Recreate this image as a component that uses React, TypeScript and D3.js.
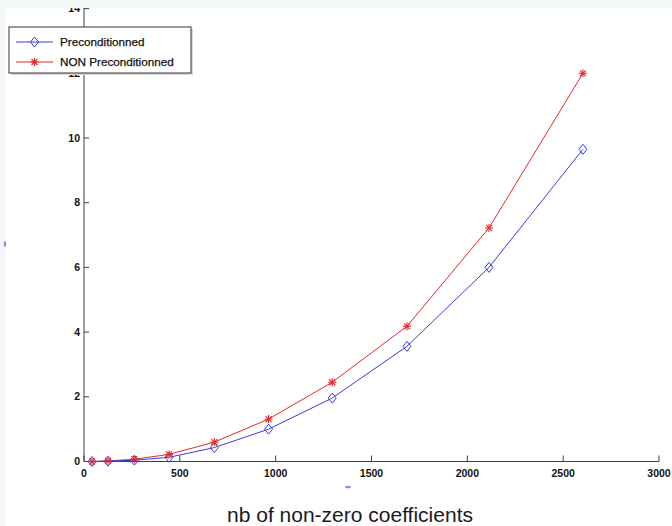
import React from "react";
import * as d3 from "d3";

const xValues = [42, 125, 263, 444, 680, 963, 1295, 1685, 2113, 2603];
const preconditioned = [0.0, 0.01, 0.04, 0.13, 0.43, 1.0, 1.96, 3.56, 6.0, 9.65];
const nonPreconditioned = [0.0, 0.02, 0.07, 0.22, 0.6, 1.31, 2.45, 4.18, 7.22, 12.0];
const xTicks = [0, 500, 1000, 1500, 2000, 2500, 3000];
const yTicks = [0, 2, 4, 6, 8, 10, 12, 14];
const seriesNames = ["Preconditionned", "NON Preconditionned"];
const xLabel = "nb of non-zero coefficients";

const W = 672;
const H = 526;
const BLUE = "#3a3ae0";
const RED = "#e8262a";

export default function App() {
  const x = d3.scaleLinear().domain([0, 3000]).range([84, 659]);
  const y = d3.scaleLinear().domain([0, 14]).range([461.5, 8.6]);
  const line = d3
    .line<[number, number]>()
    .x((d) => x(d[0]))
    .y((d) => y(d[1]));
  const bluePts: [number, number][] = xValues.map((v, i) => [v, preconditioned[i]]);
  const redPts: [number, number][] = xValues.map((v, i) => [v, nonPreconditioned[i]]);

  const diamond = (cx: number, cy: number, key: string | number) => (
    <path
      key={key}
      d={`M${cx},${cy - 5}L${cx + 4},${cy}L${cx},${cy + 5}L${cx - 4},${cy}Z`}
      fill="none"
      stroke={BLUE}
      strokeWidth={1}
    />
  );
  const star = (cx: number, cy: number, key: string | number) => (
    <g key={key} stroke={RED} strokeWidth={1.1}>
      <line x1={cx - 4} y1={cy} x2={cx + 4} y2={cy} />
      <line x1={cx} y1={cy - 4} x2={cx} y2={cy + 4} />
      <line x1={cx - 3} y1={cy - 3} x2={cx + 3} y2={cy + 3} />
      <line x1={cx - 3} y1={cy + 3} x2={cx + 3} y2={cy - 3} />
    </g>
  );

  const tickFont = { fontFamily: "Liberation Sans, Arial, sans-serif", fontSize: 10.5, fontWeight: 700 as const };

  return (
    <div style={{ position: "fixed", left: 0, top: 0, width: W, height: H }}>
      <svg width={W} height={H} style={{ display: "block", background: "#ffffff" }}>
        {/* axes */}
        <g stroke="#404040" strokeWidth={1} fill="none">
          <line x1={x(0)} y1={y(0)} x2={x(3000)} y2={y(0)} />
          <line x1={x(0)} y1={y(0)} x2={x(0)} y2={0} />
          {xTicks.map((t) => (
            <line key={"xt" + t} x1={x(t)} y1={y(0)} x2={x(t)} y2={y(0) - 6} />
          ))}
          {yTicks.map((t) => (
            <line key={"yt" + t} x1={x(0)} y1={y(t)} x2={x(0) + 5} y2={y(t)} />
          ))}
        </g>
        {xTicks.map((t) => (
          <text key={"xl" + t} x={x(t)} y={y(0) + 15} textAnchor="middle" fill="#111" {...tickFont}>
            {t}
          </text>
        ))}
        {yTicks.map((t) => (
          <text key={"yl" + t} x={x(0) - 4} y={y(t) + 3.5} textAnchor="end" fill="#111" {...tickFont}>
            {t}
          </text>
        ))}

        {/* series */}
        <path d={line(redPts) || ""} fill="none" stroke={RED} strokeWidth={1} />
        <path d={line(bluePts) || ""} fill="none" stroke={BLUE} strokeWidth={1} />
        {bluePts.map((p, i) => diamond(x(p[0]), y(p[1]), "d" + i))}
        {redPts.map((p, i) => star(x(p[0]), y(p[1]), "s" + i))}

        {/* legend */}
        <rect x={11} y={29} width={182} height={46} fill="#d8d8d8" />
        <rect x={9} y={27} width={182} height={46} fill="#ffffff" stroke="#333" strokeWidth={1} />
        <line x1={16} y1={42} x2={53} y2={42} stroke={BLUE} strokeWidth={1} />
        {diamond(34.5, 42, "ld")}
        <line x1={16} y1={62} x2={53} y2={62} stroke={RED} strokeWidth={1} />
        {star(34.5, 62, "ls")}
        <text x={60} y={46} fontFamily="Liberation Sans, Arial, sans-serif" fontSize={11.7} fill="#111" stroke="#111" strokeWidth={0.25}>
          {seriesNames[0]}
        </text>
        <text x={60} y={66} fontFamily="Liberation Sans, Arial, sans-serif" fontSize={11.7} fill="#111" stroke="#111" strokeWidth={0.25}>
          {seriesNames[1]}
        </text>

        {/* x label */}
        <text
          x={350}
          y={522}
          textAnchor="middle"
          fontFamily="Liberation Sans, Arial, sans-serif"
          fontSize={21}
          fill="#1a1a1a"
        >
          {xLabel}
        </text>

        {/* cropped frame bands */}
        <rect x={0} y={0} width={W} height={8} fill="#f2f7f8" />
        <rect x={0} y={0} width={5} height={H} fill="#f2f7f8" />
        <ellipse cx={5} cy={244} rx={1.3} ry={3} fill="#8f8fd6" />
        <ellipse cx={348} cy={487} rx={3} ry={1.3} fill="#8f8fd6" />
      </svg>
    </div>
  );
}
